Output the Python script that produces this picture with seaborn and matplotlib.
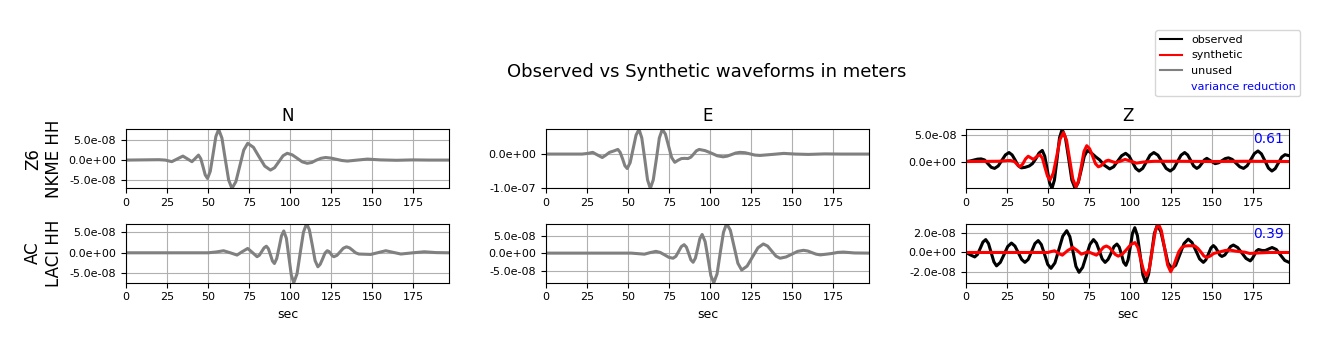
import matplotlib
matplotlib.use("Agg")
import matplotlib.pyplot as plt
import seaborn as sns
from matplotlib.lines import Line2D
from matplotlib.ticker import FixedLocator, FormatStrFormatter

# Waveforms, (time in sec, displacement in 1e-8 m)
n1 = [(0, 0.0), (20, 0.1), (24, 0.0), (27.9, -0.4), (31.3, 0.3), (34.7, 1.0), (37.5, 0.3),
      (40.2, -0.4), (42.2, 0.4), (44.2, 1.25), (45.6, 0.35), (47.0, -1.7), (48.3, -3.7),
      (49.7, -4.6), (51.4, -2.8), (53.1, 1.5), (54.8, 5.9), (56.5, 7.7), (58.5, 5.5),
      (60.5, 0.3), (62.6, -5.0), (64.6, -7.1), (67.0, -5.4), (69.4, -1.45), (71.8, 2.5),
      (74.2, 4.2), (77.7, 3.2), (81.1, 0.85), (84.6, -1.5), (88.1, -2.5), (90.6, -1.9),
      (93.2, -0.4), (95.8, 1.1), (98.3, 1.7), (101.4, 1.3), (104.4, 0.45), (107.5, -0.45),
      (110.5, -0.8), (113.3, -0.6), (116.1, 0.0), (118.9, 0.45), (121.7, 0.65), (125, 0.5),
      (128.3, 0.2), (131.6, -0.1), (135, -0.25), (141, 0.0), (147.2, 0.25), (155, 0.05),
      (165, -0.05), (175, 0.05), (185, 0.0), (197, 0.0)]

e1 = [(0, 0.0), (22, 0.0), (25.5, 0.2), (28.5, 0.5), (31.5, -0.3), (34.3, -1.0), (36.5, -0.3),
      (38.7, 0.5), (41.3, 0.9), (43.8, 1.35), (45.2, 0.5), (46.7, -1.4), (48.1, -3.4),
      (49.5, -4.2), (51.3, -2.5), (53.1, 1.5), (54.9, 5.5), (56.7, 7.2), (58.4, 4.7),
      (60.2, -1.4), (61.9, -7.5), (63.6, -10.0), (65.4, -7.5), (67.3, -1.4), (69.1, 4.7),
      (70.9, 7.2), (72.8, 5.8), (74.7, 2.4), (76.6, -1.0), (78.5, -2.4), (80.5, -1.8),
      (82.6, -1.3), (84.6, -1.25), (86.6, -1.3), (88.3, -0.9), (90, 0.0), (91.7, 0.95),
      (93.4, 1.35), (97, 1.0), (100.7, 0.3), (104.4, -0.5), (108, -0.8), (110.5, -0.6),
      (113.1, -0.15), (115.6, 0.3), (118.2, 0.5), (121.3, 0.4), (124.4, 0.05), (127.4, -0.3),
      (130.5, -0.4), (138, -0.1), (145, 0.2), (152, 0.0), (160, -0.1), (170, 0.05),
      (180, 0.0), (197, 0.0)]

z1_obs = [(0, 0.0), (2.5, 0.1), (5, 0.3), (7, 0.45), (9.2, 0.5), (11.3, 0.3), (13.3, -0.4),
          (15.4, -1.1), (17.4, -1.3), (19.6, -0.85), (21.8, 0.2), (24, 1.25), (26.2, 1.7),
          (28.1, 1.25), (30, 0.25), (31.8, -0.8), (33.7, -1.2), (36, -1.1), (38.5, -0.85),
          (40.5, -0.4), (42.5, 0.5), (44.5, 1.6), (46.5, 2.1), (48, 1.0), (49.5, -1.5),
          (50.9, -4.0), (52.4, -5.1), (53.9, -3.5), (55.5, 0.5), (57, 4.5), (58.6, 6.1),
          (60.6, 4.5), (62.6, 0.5), (64.5, -3.5), (66.5, -5.1), (68.4, -4.0), (70.3, -1.5),
          (72.1, 1.0), (74, 2.1), (76.5, 1.6), (79, 0.9), (81.5, 0.3), (84.3, -0.7),
          (87.6, -1.4), (90, -1.0), (92.5, 0.1), (94.9, 1.1), (97.3, 1.55), (99.4, 1.05),
          (101.4, -0.1), (103.5, -1.3), (105.5, -1.8), (107.7, -1.3), (110, -0.05),
          (112.2, 1.2), (114.5, 1.7), (117, 1.2), (119.5, -0.05), (122, -1.3), (124.5, -1.8),
          (126.7, -1.3), (128.9, -0.05), (131.1, 1.2), (133.3, 1.7), (135.1, 1.25),
          (137, 0.2), (138.8, -0.85), (140.7, -1.3), (142.2, -1.0), (143.8, -0.35),
          (145.3, 0.3), (146.8, 0.6), (149.3, 0.1), (151.9, -0.4), (153.9, -0.25),
          (156, 0.15), (158, 0.55), (160, 0.7), (162.3, 0.4), (164.6, -0.3), (166.9, -1.0),
          (169.2, -1.3), (171.4, -0.8), (173.6, 0.35), (175.8, 1.5), (178, 2.0), (180.1, 1.45),
          (182.3, 0.1), (184.4, -1.25), (186.5, -1.8), (188.5, -1.35), (190.5, -0.25),
          (192.5, 0.85), (194.5, 1.3), (197, 1.1)]

z1_syn = [(0, 0.0), (20, 0.05), (24, 0.15), (27, 0.2), (29.5, 0.0), (31, -0.5), (32.8, -1.0),
          (34.5, -0.5), (36.3, 0.5), (37.9, 1.0), (39.5, 0.7), (41, 0.4), (43, 0.9), (45, 1.3),
          (46.6, 0.6), (48.1, -1.1), (49.7, -2.8), (51.2, -3.5), (53.2, -2.2), (55.3, 1.0),
          (57.3, 4.2), (59.4, 5.5), (61.3, 4.0), (63.2, 0.35), (65.1, -3.3), (67, -4.8),
          (68.6, -3.7), (70.3, -0.9), (71.9, 1.9), (73.6, 3.0), (75.4, 2.4), (77.2, 1.0),
          (78.9, -0.4), (80.7, -1.0), (82.3, -0.8), (83.8, -0.35), (85.3, 0.1), (86.8, 0.25),
          (89, 0.0), (91, -0.2), (94, 0.05), (97, 0.4), (100.5, 0.05), (104, -0.3),
          (108, -0.1), (115, 0.05), (130, 0.05), (150, 0.0), (170, 0.05), (197, 0.0)]

n2 = [(0, 0.0), (50, 0.0), (55, 0.2), (59.5, 0.5), (63.6, 0.0), (67.7, -0.55), (71, 0.3),
      (74.2, 1.05), (77, 0.1), (79.9, -0.95), (81.3, -0.6), (82.8, 0.33), (84.2, 1.2),
      (85.6, 1.6), (86.8, 1.0), (88.1, -0.5), (89.3, -2.0), (90.5, -2.6), (91.9, -1.4),
      (93.4, 1.35), (94.8, 4.1), (96.2, 5.3), (97.8, 3.5), (99.3, -1.0), (100.8, -5.4),
      (102.3, -7.26), (104.3, -5.1), (106.2, -0.1), (108.2, 5.0), (110.1, 7.1), (111.8, 5.6),
      (113.6, 1.85), (115.3, -1.9), (117, -3.4), (118.4, -2.8), (119.9, -1.45), (121.3, -0.1),
      (122.7, 0.5), (123.8, 0.3), (124.8, -0.2), (125.8, -0.75), (126.8, -0.95),
      (128.7, -0.6), (130.6, 0.25), (132.5, 1.1), (134.4, 1.45), (136.3, 1.2), (138.2, 0.6),
      (140, 0.0), (142, -0.3), (145.5, -0.35), (149.2, -0.4), (153.8, 0.05), (158.4, 0.5),
      (163, 0.1), (167.6, -0.3), (175, 0.0), (181.9, 0.25), (189, 0.05), (197, 0.0)]

e2 = [(0, 0.0), (52, 0.0), (56, -0.15), (60, -0.3), (63.5, 0.15), (67, 0.5), (69.6, 0.2),
      (72.3, -0.5), (74.9, -1.2), (77.5, -1.45), (79.2, -0.9), (80.9, 0.5), (82.5, 1.85),
      (84.2, 2.4), (85.6, 1.7), (87, -0.1), (88.3, -1.9), (89.7, -2.6), (91.1, -1.4),
      (92.5, 1.35), (93.8, 4.1), (95.2, 5.3), (97, 3.3), (98.8, -1.55), (100.5, -6.4),
      (102.3, -8.4), (104.3, -5.9), (106.2, 0.0), (108.2, 5.9), (110.1, 8.4), (112.4, 6.5),
      (114.7, 1.8), (117, -2.9), (119.3, -4.8), (122.6, -3.7), (125.9, -1.1), (129.2, 1.5),
      (132.5, 2.6), (135.1, 2.0), (137.6, 0.6), (140.2, -0.85), (142.7, -1.45),
      (146.3, -1.1), (149.9, -0.3), (153.4, 0.5), (157, 0.8), (159.6, 0.6), (162.1, 0.15),
      (164.7, -0.3), (167.2, -0.5), (171, -0.3), (174.3, -0.1), (177.8, 0.2), (181.4, 0.3),
      (188, 0.05), (197, 0.0)]

z2_obs = [(0, 0.0), (2.7, -0.25), (5.3, -0.45), (7, -0.2), (8.7, 0.43), (10.3, 1.05), (12, 1.3),
          (13.7, 0.9), (15.3, 0.0), (17, -0.95), (18.6, -1.35), (20.9, -1.0), (23.2, -0.2),
          (25.4, 0.6), (27.7, 0.95), (29.8, 0.65), (31.8, 0.0), (33.9, -0.7), (35.9, -1.0),
          (37.9, -0.7), (40, 0.1), (42, 0.9), (44, 1.2), (45.9, 0.8), (47.9, -0.2),
          (49.8, -1.2), (51.8, -1.6), (54.2, -1.05), (56.6, 0.3), (59, 1.65), (61.4, 2.2),
          (63.3, 1.6), (65.2, 0.1), (67, -1.4), (68.9, -2.0), (71.1, -1.5), (73.3, -0.35),
          (75.5, 0.8), (77.7, 1.3), (79.5, 0.95), (81.3, 0.15), (83, -0.65), (84.8, -1.0),
          (86.6, -0.7), (88.4, -0.1), (90.2, 0.6), (92, 0.85), (93.4, 0.55), (94.8, -0.2),
          (96.1, -1.0), (97.5, -1.3), (98.8, -0.75), (100.2, 0.6), (101.5, 1.95), (102.9, 2.5),
          (104.5, 1.7), (106.2, -0.3), (107.8, -2.25), (109.5, -3.05), (111.3, -2.2),
          (113.1, -0.15), (114.8, 1.9), (116.6, 2.75), (118.8, 2.1), (121, 0.5), (123.1, -1.05),
          (125.3, -1.6), (127.8, -1.3), (130.4, -0.2), (132.9, 0.9), (135.5, 1.35),
          (137.8, 1.0), (140.1, 0.2), (142.4, -0.65), (144.7, -1.0), (146.2, -0.75),
          (147.8, -0.15), (149.3, 0.45), (150.8, 0.7), (152.1, 0.5), (153.4, 0.15),
          (154.7, -0.25), (156, -0.4), (157.8, -0.25), (159.5, 0.15), (161.3, 0.6), (163, 0.75),
          (165.6, 0.5), (168.2, -0.05), (170.7, -0.6), (173.3, -0.85), (174.6, -0.6),
          (175.8, -0.25), (177, 0.15), (178.3, 0.3), (180.5, 0.2), (182.5, 0.2), (184.5, 0.35),
          (186.6, 0.5), (189.2, 0.3), (191.7, -0.25), (194.3, -0.8), (197, -1.0)]

z2_syn = [(0, 0.0), (50, 0.0), (52, 0.1), (54, 0.17), (56.5, -0.1), (58.7, -0.27), (62, 0.2),
          (65.2, 0.5), (67.8, 0.2), (70.3, -0.17), (72.4, -0.05), (74.4, 0.07), (77, -0.1),
          (79.5, -0.27), (81, -0.05), (82.6, 0.3), (84, 0.55), (85.6, 0.65), (87.4, 0.5),
          (89.2, 0.15), (91, -0.2), (92.8, -0.37), (95.4, -0.15), (97.9, 0.3), (100.5, 0.8),
          (103, 1.0), (104.8, 0.5), (106.5, -0.7), (108.3, -1.85), (110, -2.35), (111.8, -1.6),
          (113.6, 0.3), (115.4, 2.15), (117.2, 2.92), (119.1, 2.2), (121, 0.5), (122.9, -1.25),
          (124.8, -1.95), (126.5, -1.4), (128.2, -0.6), (129.8, 0.1), (131.5, 0.5),
          (133.5, 0.65), (135.6, 0.68), (137.6, 0.68), (139.6, 0.65), (141.4, 0.4),
          (143.2, 0.05), (145, -0.35), (146.8, -0.5), (149, -0.35), (151, -0.1), (155, 0.07),
          (158, 0.2), (161, 0.24), (165, 0.12), (170, 0.03), (173, -0.1), (178, -0.05),
          (185, 0.0), (197, 0.0)]

stations = ["Z6\nNKME HH", "AC\nLACI HH"]
components = ["N", "E", "Z"]
var_red = [0.61, 0.39]
yticks = [[[-5e-8, 0, 5e-8], [-1e-7, 0], [0, 5e-8]],
          [[-5e-8, 0, 5e-8], [-5e-8, 0, 5e-8], [-2e-8, 0, 2e-8]]]

SCALE = 1e-8
XMAX = 197

# which traces go in which panel: (data, colour)
panels = [[[(n1, "gray")], [(e1, "gray")], [(z1_obs, "black"), (z1_syn, "red")]],
          [[(n2, "gray")], [(e2, "gray")], [(z2_obs, "black"), (z2_syn, "red")]]]

fig, axes = plt.subplots(2, 3, figsize=(13.29, 3.51), dpi=100)
fig.subplots_adjust(left=0.0948, right=0.970, top=0.6316, bottom=0.1946,
                    wspace=0.30, hspace=0.593)

for r in range(2):
    for c in range(3):
        ax = axes[r, c]
        lo, hi = 0, 0
        for trace, col in panels[r][c]:
            t = [p[0] for p in trace]
            v = [p[1] * SCALE for p in trace]
            sns.lineplot(x=t, y=v, ax=ax, color=col, lw=2.2, estimator=None)
            lo, hi = min(lo, min(v)), max(hi, max(v))
        ax.set_xlim(0, XMAX)
        ax.set_ylim(lo, hi)
        ax.set_xticks(range(0, 176, 25))
        ax.yaxis.set_major_locator(FixedLocator(yticks[r][c]))
        ax.yaxis.set_major_formatter(FormatStrFormatter('%.1e'))
        ax.tick_params(labelsize=8)
        ax.grid(True)
        if r == 0:
            ax.set_title(components[c], fontsize=12)
        if r == 1:
            ax.set_xlabel("sec", fontsize=9)
        if c == 0:
            ax.set_ylabel(stations[r], fontsize=12)
        if c == 2:
            ax.text(0.985, 0.83, f"{var_red[r]:.2f}", transform=ax.transAxes,
                    ha="right", va="center", color="blue", fontsize=10)

fig.suptitle("Observed vs Synthetic waveforms in meters", x=0.532, y=0.795,
             va="center", fontsize=13)

handles = [Line2D([], [], color="black"), Line2D([], [], color="red"),
           Line2D([], [], color="gray"), Line2D([], [], color="none")]
leg = fig.legend(handles, ["observed", "synthetic", "unused", "variance reduction"],
                 loc="upper right", bbox_to_anchor=(0.9825, 0.929), fontsize=8)
leg.get_texts()[3].set_color("blue")

fig.savefig("out.png", dpi=100)
